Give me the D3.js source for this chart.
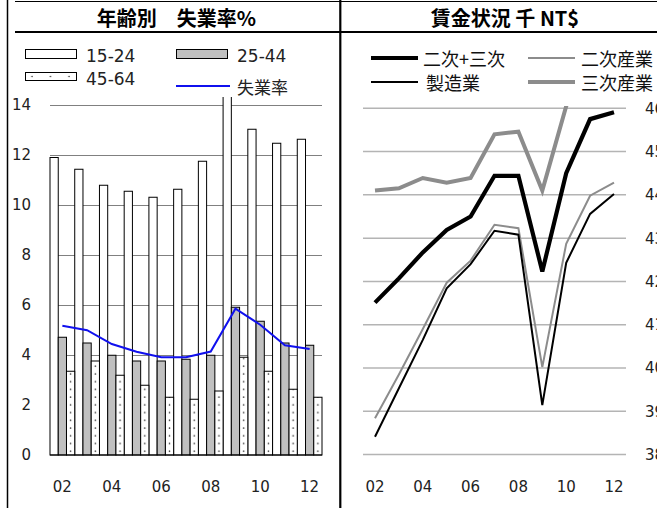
<!DOCTYPE html>
<html>
<head>
<meta charset="utf-8">
<script src="https://cdn.jsdelivr.net/npm/d3@7"></script>
<style>
  body { margin: 0; background: #fff; }
  svg { display: block; }
</style>
</head>
<body>
<div id="chart"></div>
<script>
// years on both panels
const years = ["02", "03", "04", "05", "06", "07", "08", "09", "10", "11", "12"];
const yearLabels = ["02", "04", "06", "08", "10", "12"];

// left panel: unemployment by age, %
const age1524 = [11.9, 11.43, 10.79, 10.55, 10.31, 10.63, 11.75, 14.5, 13.03, 12.47, 12.63];
const age2544 = [4.71, 4.48, 3.99, 3.76, 3.76, 3.83, 3.99, 5.91, 5.35, 4.48, 4.39];
const age4564 = [3.35, 3.76, 3.19, 2.79, 2.31, 2.23, 2.56, 3.91, 3.35, 2.63, 2.31];
const unempRate = [5.17, 4.99, 4.44, 4.13, 3.91, 3.91, 4.14, 5.85, 5.21, 4.39, 4.24];
const leftTicks = [0, 2, 4, 6, 8, 10, 12, 14];

// right panel: wages, thousand NT$
const wageAll = [41.51, 42.07, 42.67, 43.19, 43.50, 44.44, 44.44, 42.23, 44.50, 45.75, 45.91];
const wageInd = [38.84, 39.85, 40.90, 41.97, 42.48, 43.31, 43.23, 40.02, 42.87, 43.98, 44.28];
const wageMfg = [38.41, 39.53, 40.65, 41.84, 42.40, 43.17, 43.08, 39.14, 42.43, 43.56, 44.02];
const wageSvc = [44.10, 44.15, 44.39, 44.28, 44.39, 45.40, 45.46, 44.10, 46.05, 47.3, 47.4];
const rightTicks = [38, 39, 40, 41, 42, 43, 44, 45, 46];

const W = 657, H = 508;
const latin = "'DejaVu Sans', 'Noto Sans CJK JP', sans-serif";
const cjk = "'Noto Sans CJK JP', sans-serif";

const svg = d3.select("#chart").append("svg")
    .attr("width", W)
    .attr("height", H);

const defs = svg.append("defs");

// ---------- left panel scales ----------
const x = d3.scaleBand().domain(years).range([50, 322]).padding(0);
const sub = d3.scaleBand().domain(["a", "b", "c"]).range([0, x.bandwidth()]);
const y = d3.scaleLinear().domain([0, 14]).range([455, 105]);

// dotted fill for 45-64 bars
const step = x.step();
const dotPat = defs.append("pattern")
    .attr("id", "dots")
    .attr("patternUnits", "userSpaceOnUse")
    .attr("x", x(years[0]) + sub("c") + sub.bandwidth() / 2 - step / 2)
    .attr("y", y(0))
    .attr("width", step)
    .attr("height", 7.73);
dotPat.append("rect").attr("width", step).attr("height", 7.73).attr("fill", "#fff");
dotPat.append("circle").attr("cx", step / 2).attr("cy", 4.03).attr("r", 0.8).attr("fill", "#333");

const legPat = defs.append("pattern")
    .attr("id", "legdots")
    .attr("patternUnits", "userSpaceOnUse")
    .attr("x", 25).attr("y", 72)
    .attr("width", 18.5).attr("height", 9);
legPat.append("rect").attr("width", 18.5).attr("height", 9).attr("fill", "#fff");
legPat.append("circle").attr("cx", 7).attr("cy", 4.5).attr("r", 0.8).attr("fill", "#333");

defs.append("clipPath").attr("id", "clipL")
  .append("rect").attr("x", 40).attr("y", 97).attr("width", 290).attr("height", 360);

const left = svg.append("g");

// gridlines
left.append("g").selectAll("line")
    .data(leftTicks.filter(d => d > 0))
    .join("line")
    .attr("x1", 50).attr("x2", 322)
    .attr("y1", d => y(d) + 0.5).attr("y2", d => y(d) + 0.5)
    .attr("stroke", "#808080").attr("stroke-width", 1);

const bars = left.append("g").attr("clip-path", "url(#clipL)");

const series = [
  { key: "a", vals: age1524, fill: "#fff" },
  { key: "b", vals: age2544, fill: "#c0c0c0" },
  { key: "c", vals: age4564, fill: "url(#dots)" }
];
series.forEach(s => {
  bars.append("g").selectAll("rect")
      .data(years)
      .join("rect")
      .attr("x", d => x(d) + sub(s.key))
      .attr("width", sub.bandwidth())
      .attr("y", (d, i) => y(s.vals[i]))
      .attr("height", (d, i) => y(0) - y(s.vals[i]))
      .attr("fill", s.fill)
      .attr("stroke", "#000")
      .attr("stroke-width", 1);
});

// baseline
left.append("line")
    .attr("x1", 50).attr("x2", 322)
    .attr("y1", y(0)).attr("y2", y(0))
    .attr("stroke", "#000").attr("stroke-width", 1.2);

// unemployment rate line
left.append("path")
    .datum(unempRate)
    .attr("fill", "none")
    .attr("stroke", "#1010ee")
    .attr("stroke-width", 2)
    .attr("d", d3.line()
        .x((d, i) => x(years[i]) + x.bandwidth() / 2)
        .y(d => y(d)));

// y labels
left.append("g").selectAll("text")
    .data(leftTicks)
    .join("text")
    .attr("x", 31)
    .attr("y", d => y(d))
    .attr("dy", "0.36em")
    .attr("text-anchor", "end")
    .attr("font-family", latin)
    .attr("font-size", 15)
    .attr("fill", "#222")
    .text(d => d);

// x labels
left.append("g").selectAll("text")
    .data(yearLabels)
    .join("text")
    .attr("x", d => x(d) + x.bandwidth() / 2)
    .attr("y", 487)
    .attr("dy", "0.36em")
    .attr("text-anchor", "middle")
    .attr("font-family", latin)
    .attr("font-size", 15)
    .attr("fill", "#222")
    .text(d => d);

// left legend
left.append("rect").attr("x", 25.5).attr("y", 49.5).attr("width", 51).attr("height", 9)
    .attr("fill", "#fff").attr("stroke", "#000");
left.append("rect").attr("x", 176.5).attr("y", 49.5).attr("width", 51).attr("height", 9)
    .attr("fill", "#c0c0c0").attr("stroke", "#000");
left.append("rect").attr("x", 25.5).attr("y", 72.5).attr("width", 51).attr("height", 8)
    .attr("fill", "url(#legdots)").attr("stroke", "#000");
left.append("line").attr("x1", 176).attr("x2", 230).attr("y1", 86).attr("y2", 86)
    .attr("stroke", "#1010ee").attr("stroke-width", 2);

const legL = [
  { t: "15-24", x: 86, y: 55.5 },
  { t: "25-44", x: 237, y: 55.5 },
  { t: "45-64", x: 86, y: 78.5 },
  { t: "失業率", x: 237, y: 88 }
];
left.append("g").selectAll("text")
    .data(legL)
    .join("text")
    .attr("x", d => d.x)
    .attr("y", d => d.y)
    .attr("dy", "0.36em")
    .attr("font-family", latin)
    .attr("font-size", 17)
    .attr("fill", "#222")
    .text(d => d.t);

// ---------- right panel ----------
const x2 = d3.scalePoint().domain(years).range([375, 614]);
const y2 = d3.scaleLinear().domain([38, 46]).range([454.5, 108.3]);

defs.append("clipPath").attr("id", "clipR")
  .append("rect").attr("x", 342).attr("y", 106).attr("width", 300).attr("height", 360);

const right = svg.append("g");

right.append("g").selectAll("line")
    .data(rightTicks)
    .join("line")
    .attr("x1", 363).attr("x2", 626)
    .attr("y1", d => y2(d)).attr("y2", d => y2(d))
    .attr("stroke", "#b4b4b4").attr("stroke-width", 1.5);

const wageLine = d3.line()
    .x((d, i) => x2(years[i]))
    .y(d => y2(d));

const lines = [
  { vals: wageSvc, color: "#8c8c8c", w: 4 },
  { vals: wageInd, color: "#8c8c8c", w: 2 },
  { vals: wageMfg, color: "#000", w: 2 },
  { vals: wageAll, color: "#000", w: 4.2 }
];
const lg = right.append("g").attr("clip-path", "url(#clipR)");
lines.forEach(l => {
  lg.append("path")
      .datum(l.vals)
      .attr("fill", "none")
      .attr("stroke", l.color)
      .attr("stroke-width", l.w)
      .attr("stroke-linejoin", "miter")
      .attr("d", wageLine);
});

right.append("g").selectAll("text")
    .data(rightTicks)
    .join("text")
    .attr("x", 645)
    .attr("y", d => y2(d))
    .attr("dy", "0.36em")
    .attr("font-family", latin)
    .attr("font-size", 15)
    .attr("fill", "#222")
    .text(d => d);

right.append("g").selectAll("text")
    .data(yearLabels)
    .join("text")
    .attr("x", d => x2(d))
    .attr("y", 487)
    .attr("dy", "0.36em")
    .attr("text-anchor", "middle")
    .attr("font-family", latin)
    .attr("font-size", 15)
    .attr("fill", "#222")
    .text(d => d);

// right legend
const legR = [
  { t: "二次+三次", lx: 371, tx: 423, y: 58, color: "#000", w: 4.2 },
  { t: "二次産業", lx: 528, tx: 581, y: 58, color: "#8c8c8c", w: 2 },
  { t: "製造業", lx: 371, tx: 426, y: 82, color: "#000", w: 2 },
  { t: "三次産業", lx: 528, tx: 581, y: 82, color: "#8c8c8c", w: 4 }
];
const lr = right.append("g").selectAll("g").data(legR).join("g");
lr.append("line")
    .attr("x1", d => d.lx).attr("x2", d => d.lx + 47)
    .attr("y1", d => d.y).attr("y2", d => d.y)
    .attr("stroke", d => d.color).attr("stroke-width", d => d.w);
lr.append("text")
    .attr("x", d => d.tx)
    .attr("y", d => d.y)
    .attr("dominant-baseline", "central")
    .attr("font-family", cjk)
    .attr("font-size", 18)
    .attr("fill", "#111")
    .text(d => d.t);

// ---------- frame and titles ----------
svg.append("line").attr("x1", 7.5).attr("x2", 7.5).attr("y1", 0).attr("y2", H)
    .attr("stroke", "#000").attr("stroke-width", 1.5);
svg.append("line").attr("x1", 15).attr("x2", W).attr("y1", 1.5).attr("y2", 1.5)
    .attr("stroke", "#000").attr("stroke-width", 1.2);
svg.append("line").attr("x1", 15).attr("x2", W).attr("y1", 32).attr("y2", 32)
    .attr("stroke", "#000").attr("stroke-width", 2.2);
svg.append("line").attr("x1", 340.3).attr("x2", 340.3).attr("y1", 0).attr("y2", H)
    .attr("stroke", "#000").attr("stroke-width", 2.2);

svg.append("text")
    .attr("x", 176.5).attr("y", 17.5)
    .attr("dominant-baseline", "central")
    .attr("text-anchor", "middle")
    .attr("font-family", cjk)
    .attr("font-weight", "bold")
    .attr("font-size", 20)
    .text("年齢別　失業率%");

svg.append("text")
    .attr("x", 505).attr("y", 17.5)
    .attr("dominant-baseline", "central")
    .attr("text-anchor", "middle")
    .attr("font-family", cjk)
    .attr("font-weight", "bold")
    .attr("font-size", 20)
    .text("賃金状況 千 NT$");
</script>
</body>
</html>
